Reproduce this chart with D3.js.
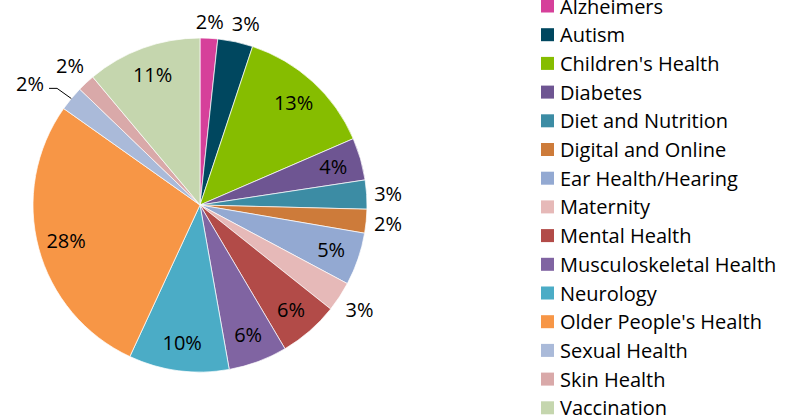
<!DOCTYPE html>
<html>
<head>
<meta charset="utf-8">
<script src="https://cdn.jsdelivr.net/npm/d3@7"></script>
<style>
  html, body { margin: 0; padding: 0; background: #ffffff; }
  svg { display: block; }
  text { font-family: "Open Sans", Lato, sans-serif; fill: #000; }
</style>
</head>
<body>
<svg id="chart" width="785" height="419"></svg>
<script>
const categories = [
  "Alzheimers", "Autism", "Children's Health", "Diabetes", "Diet and Nutrition",
  "Digital and Online", "Ear Health/Hearing", "Maternity", "Mental Health",
  "Musculoskeletal Health", "Neurology", "Older People's Health", "Sexual Health",
  "Skin Health", "Vaccination"
];
const shares = [1.7, 3.4, 13.4, 4.1, 2.8, 2.3, 5.1, 2.9, 5.8, 5.7, 9.7, 27.9, 2.4, 1.7, 11.1];
const colors = [
  "#d6409a", "#00475f", "#86bd00", "#6e5592", "#3c8ca4",
  "#cd7b3a", "#93a9d2", "#e6b9b8", "#b24b48", "#8064a2",
  "#4bacc6", "#f79646", "#aabad9", "#d9a9a9", "#c5d6ae"
];

const svg = d3.select("#chart");
const cx = 200, cy = 205, R = 167;
const data = categories.map((c, i) => ({ name: c, v: shares[i], color: colors[i] }));
const total = d3.sum(shares);
const fmt = d3.format(".0%");

const pie = d3.pie().sort(null).value(d => d.v).startAngle(0).endAngle(2 * Math.PI);
const arcs = pie(data);
const arc = d3.arc().innerRadius(0).outerRadius(R);

const g = svg.append("g").attr("transform", `translate(${cx},${cy})`);
g.selectAll("path.slice").data(arcs).enter().append("path")
  .attr("class", "slice")
  .attr("d", arc)
  .attr("fill", d => d.data.color)
  .attr("stroke", "#ffffff")
  .attr("stroke-width", 0.7);

// labels
const outsideThreshold = 0.035;
const labelSize = 20;
const lg = g.append("g");
const labels = arcs.map(a => {
  const frac = a.data.v / total;
  const mid = (a.startAngle + a.endAngle) / 2;
  return { a, frac, mid, text: fmt(frac), outside: frac < outsideThreshold };
});

labels.forEach(l => {
  l.node = lg.append("text")
    .attr("font-size", labelSize)
    .attr("text-anchor", "middle")
    .attr("dominant-baseline", "central")
    .text(l.text);
  const bb = l.node.node().getBBox();
  l.hw = bb.width / 2; l.hh = bb.height / 2 - 4;
  const s = Math.sin(l.mid), c = Math.cos(l.mid);
  if (!l.outside) {
    const d = R * 0.83;
    l.x = d * s; l.y = -d * c;
  } else {
    const d = R + 7 + (l.hw * Math.abs(s) + l.hh * Math.abs(c));
    l.x = d * s; l.y = -d * c;
  }
});

// resolve overlaps among outside labels (processed in reverse order)
const placed = [];
labels.slice().reverse().forEach(l => {
  if (!l.outside) return;
  const overlaps = p => Math.abs(p.x - l.x) < p.hw + l.hw + 4 && Math.abs(p.y - l.y) < p.hh + l.hh + 2;
  const hit = placed.find(overlaps);
  if (hit) {
    if (Math.abs(hit.y - l.y) < l.hh) {
      // same row: push the outer one sideways
      const outer = Math.abs(hit.x) > Math.abs(l.x) ? hit : l;
      const inner = outer === hit ? l : hit;
      const dir = outer.x >= inner.x ? 1 : -1;
      outer.x = inner.x + dir * (inner.hw + outer.hw + 8);
    } else {
      const dir = l.x < 0 ? -1 : 1;
      l.x = hit.x + dir * (hit.hw + l.hw + 12);
      l.leader = true;
    }
  }
  placed.push(l);
});

labels.forEach(l => {
  l.node.attr("x", l.x).attr("y", l.y);
  if (l.leader) {
    const dir = l.x < 0 ? 1 : -1;
    const sx = l.x + dir * (l.hw + 5), sy = l.y + 5;
    const ex = R * Math.sin(l.mid), ey = -R * Math.cos(l.mid);
    lg.append("path")
      .attr("d", `M${sx},${sy}H${sx + dir * 8}L${ex},${ey}`)
      .attr("fill", "none")
      .attr("stroke", "#000")
      .attr("stroke-width", 1);
  }
});

// legend
const legend = svg.append("g").attr("transform", "translate(541,6)");
const rowH = 28.7;
const items = legend.selectAll("g").data(data).enter().append("g")
  .attr("transform", (d, i) => `translate(0,${i * rowH})`);
items.append("rect")
  .attr("x", 0).attr("y", -6.5).attr("width", 13).attr("height", 13)
  .attr("fill", d => d.color);
items.append("text")
  .attr("x", 19).attr("y", 0)
  .attr("dominant-baseline", "central")
  .attr("font-size", 20)
  .text(d => d.name);
</script>
</body>
</html>
